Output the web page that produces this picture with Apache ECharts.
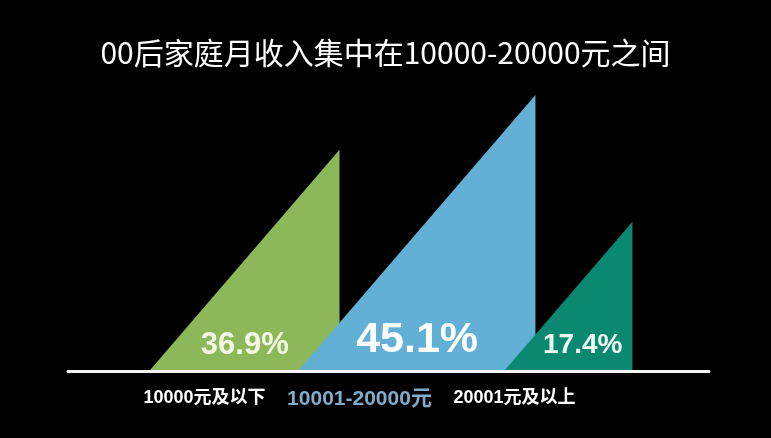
<!DOCTYPE html>
<html>
<head>
<meta charset="utf-8">
<script src="https://cdn.jsdelivr.net/npm/echarts@6/dist/echarts.min.js"></script>
<style>
  html, body { margin: 0; padding: 0; background: #000; }
  #chart { width: 771px; height: 438px; }
</style>
</head>
<body>
<div id="chart"></div>
<script>
// 收入区间
const categories = ['10000元及以下', '10001-20000元', '20001元及以上'];
// 占比（标签）
const shares = [36.9, 45.1, 17.4];
// 三角形高度（从图上读出，与占比不成比例）
const heights = [36.1, 45.1, 24.3];

window.onload = function () {
  let chart = echarts.init(document.getElementById('chart'));

  // 样式
  const colors = ['#8cb85a', '#62b0d6', '#0b8870'];
  const labelColors = ['#ffffff', '#80abcb', '#ffffff'];
  const labelFont = [18, 21, 18];
  const shareColors = ['#f2f8e4', '#ffffff', '#eef8f4'];
  const shareFont = [31, 43, 28];
  const shareRise = [25, 30, 25];     // 百分比距底边
  const shareAt = [0.5, 0.5, 0.61];   // 百分比在底边上的位置
  const apexShift = [0.871, 1.135, 0.761]; // 顶点相对类目中心（带宽倍数）
  const slope = 0.86; // 底宽 / 高

  let option = {
    backgroundColor: '#000',
    title: {
      text: '00后家庭月收入集中在10000-20000元之间',
      left: 'center',
      top: 33,
      textStyle: {
        color: '#fff',
        fontSize: 30,
        fontWeight: 'normal',
        fontFamily: 'Noto Sans CJK SC'
      }
    },
    grid: [
      { left: 127, right: 179, top: 4, bottom: 68 },
      { left: 68, right: 62, top: 4, bottom: 67 }
    ],
    xAxis: [{
      type: 'category',
      gridIndex: 0,
      data: categories.map(function (c, i) {
        return { value: c, textStyle: { color: labelColors[i], fontSize: labelFont[i] } };
      }),
      axisLine: { show: false },
      axisTick: { show: false },
      axisLabel: {
        interval: 0,
        hideOverlap: false,
        margin: 19,
        fontSize: 18,
        fontWeight: 'bold',
        fontFamily: 'Liberation Sans, Noto Sans CJK SC'
      }
    }, {
      type: 'value',
      gridIndex: 1,
      min: 0,
      max: 1,
      axisLine: { show: true, lineStyle: { color: '#f4f4f4', width: 3 } },
      axisTick: { show: false },
      axisLabel: { show: false },
      splitLine: { show: false }
    }],
    yAxis: [{
      type: 'value',
      gridIndex: 0,
      min: 0,
      max: 60,
      show: false
    }, {
      type: 'value',
      gridIndex: 1,
      show: false
    }],
    series: [{
      type: 'custom',
      xAxisIndex: 0,
      yAxisIndex: 0,
      data: heights.map(function (h, i) { return [i, h]; }),
      renderItem: function (params, api) {
        let i = api.value(0);
        let base = api.coord([i, 0]);
        let top = api.coord([i, api.value(1)]);
        let band = api.size([1, 0])[0];
        let h = base[1] - top[1];
        let w = h * slope;
        let ax = base[0] + band * apexShift[i];
        let left = ax - w;
        return {
          type: 'group',
          children: [{
            type: 'polygon',
            shape: { points: [[left, base[1]], [ax, top[1]], [ax, base[1]]] },
            style: { fill: colors[i] }
          }, {
            type: 'text',
            style: {
              text: shares[i] + '%',
              x: left + w * shareAt[i],
              y: base[1] - shareRise[i],
              align: 'center',
              verticalAlign: 'middle',
              fill: shareColors[i],
              font: 'bold ' + shareFont[i] + 'px "Liberation Sans", Arial, sans-serif'
            }
          }]
        };
      }
    }]
  };

  chart.setOption(option);

  window.onresize = function () {
    chart.resize();
  };
};
</script>
</body>
</html>
